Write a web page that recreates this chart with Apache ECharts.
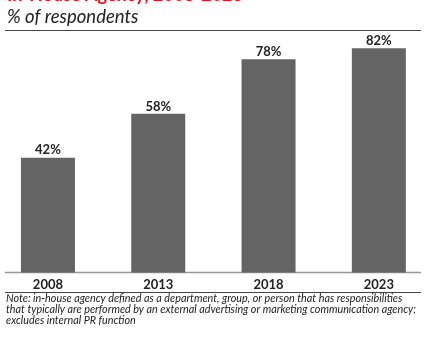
<!DOCTYPE html>
<html>
<head>
<meta charset="utf-8">
<script src="https://cdn.jsdelivr.net/npm/echarts@6/dist/echarts.min.js"></script>
<style>html,body{margin:0;padding:0;background:#fff;}#c{width:426px;height:338px;}</style>
</head>
<body>
<div id="c"></div>
<script>
const categories = ['2008', '2013', '2018', '2023'];
const values = [42, 58, 78, 82];
const titleText = 'In-House Agency, 2008-2023';
const subtitleText = '% of respondents';
const noteLines = [
  'Note: in-house agency defined as a department, group, or person that has responsibilities',
  'that typically are performed by an external advertising or marketing communication agency;',
  'excludes internal PR function'
];

const chart = echarts.init(document.getElementById('c'), null, {renderer: 'canvas'});
chart.setOption({
  animation: false,
  backgroundColor: '#fff',
  grid: {left: -7.2, right: -8, top: -1, bottom: 65.5, containLabel: false, outerBoundsMode: 'none'},
  xAxis: {
    type: 'category',
    data: categories,
    axisLine: {show: false},
    axisTick: {show: false},
    axisLabel: {color: '#222', fontFamily: 'Lato', fontWeight: 'bold', fontSize: 13, margin: 6}
  },
  yAxis: {
    type: 'value', min: 0, max: 100,
    show: false, splitLine: {show: false}
  },
  series: [{
    type: 'bar',
    data: values,
    barWidth: 54,
    itemStyle: {color: '#646464'},
    label: {
      show: true, position: 'top', distance: 1,
      formatter: '{c}%', color: '#222', fontFamily: 'Lato', fontWeight: 'bold', fontSize: 13
    }
  }],
  graphic: [
    {type: 'text', x: 7, y: -4.5, style: {text: titleText, fill: '#e8141f', font: 'bold 18px Lato', verticalAlign: 'middle'}},
    {type: 'text', x: 7, y: 17.2, style: {text: subtitleText, fill: '#222', font: 'italic 18.5px Lato', verticalAlign: 'middle'}},
    {type: 'line', shape: {x1: 5, y1: 30.5, x2: 421, y2: 30.5}, style: {stroke: '#444', lineWidth: 1}},
    {type: 'line', shape: {x1: 5, y1: 272.5, x2: 421, y2: 272.5}, style: {stroke: '#999', lineWidth: 1.5}},
    {type: 'line', shape: {x1: 5, y1: 292.5, x2: 421, y2: 292.5}, style: {stroke: '#444', lineWidth: 1}},
    {type: 'text', x: 6, y: 293, style: {text: noteLines.join('\n'), fill: '#222', font: 'italic 10.8px Lato', lineHeight: 11.2}}
  ]
});
</script>
</body>
</html>
